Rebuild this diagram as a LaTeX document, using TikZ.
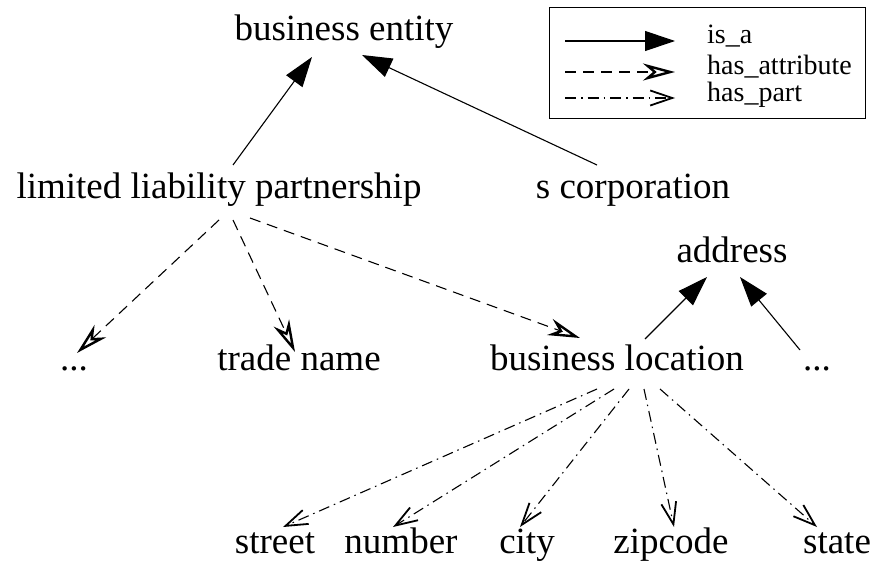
\documentclass[tikz,border=0pt]{standalone}
\usepackage{fontspec}
\setmainfont{Liberation Serif}
\usetikzlibrary{arrows.meta}
\begin{document}
\begin{tikzpicture}[x=1pt,y=-1pt,
  lbl/.style={inner sep=0pt,anchor=base,font=\fontsize{37}{40}\selectfont},
  leg/.style={inner sep=0pt,anchor=base west,font=\fontsize{28}{30}\selectfont},
  isa/.style={line width=1.1pt,-{Triangle[length=30pt,width=20pt]}},
  attr/.style={line width=1.1pt,dash pattern=on 11pt off 7pt,
    -{Stealth[open,length=32pt,width=17pt,inset=10pt,line width=2.4pt]}},
  part/.style={line width=1.1pt,dash pattern=on 11pt off 5pt on 1.5pt off 5pt,
    -{Straight Barb[length=22pt,width=15pt,line width=1.8pt]}}]
\useasboundingbox (0,0) rectangle (875,570);
% nodes
\node[lbl] (be) at (344,40) {business entity};
\node[lbl] (llp) at (219,198) {limited liability partnership};
\node[lbl] (sc) at (633,198) {s corporation};
\node[lbl] (addr) at (732,262) {address};
\node[lbl] (dots1) at (74,370) {...};
\node[lbl] (tn) at (299,370) {trade name};
\node[lbl] (bl) at (617,370) {business location};
\node[lbl] (dots2) at (817,370) {...};
\node[lbl] (street) at (275,553) {street};
\node[lbl] (number) at (401,553) {number};
\node[lbl] (city) at (527,553) {city};
\node[lbl] (zip) at (671,553) {zipcode};
\node[lbl] (state) at (837,553) {state};
% is_a
\draw[isa] ([shift={(14,-33)}]llp.base) -- ([shift={(-32,17)}]be.base);
\draw[isa] ([shift={(-36,-33)}]sc.base) -- ([shift={(18,15)}]be.base);
\draw[isa] ([shift={(28,-31)}]bl.base) -- ([shift={(-25,15)}]addr.base);
\draw[isa] ([shift={(-17,-20)}]dots2.base) -- ([shift={(8,15)}]addr.base);
% has_attribute
\draw[attr] ([shift={(0,22)}]llp.base) -- ([shift={(3,-17)}]dots1.base);
\draw[attr] ([shift={(14,22)}]llp.base) -- ([shift={(-4,-18)}]tn.base);
\draw[attr] ([shift={(31,20)}]llp.base) -- ([shift={(-37,-32)}]bl.base);
% has_part
\draw[part] ([shift={(-20,19)}]bl.base) -- ([shift={(8,-26)}]street.base);
\draw[part] ([shift={(-3,19)}]bl.base) -- ([shift={(-8,-26)}]number.base);
\draw[part] ([shift={(12,19)}]bl.base) -- ([shift={(-7,-26)}]city.base);
\draw[part] ([shift={(27,19)}]bl.base) -- ([shift={(3,-26)}]zip.base);
\draw[part] ([shift={(43,19)}]bl.base) -- ([shift={(-20,-26)}]state.base);
% legend
\node[draw,line width=1pt,inner sep=0pt,anchor=north west,minimum width=316pt,minimum height=111pt] (legend) at (549,7) {};
\coordinate (l1a) at (565,41); \coordinate (l1b) at (675,41);
\coordinate (l2a) at (565,72); \coordinate (l2b) at (675,72);
\coordinate (l3a) at (565,98); \coordinate (l3b) at (675,98);
\draw[isa] (l1a) -- (l1b);
\draw[attr] (l2a) -- (l2b);
\draw[part] (l3a) -- (l3b);
\node[leg] (t1) at (707,43) {is\_a};
\node[leg] (t2) at (707,74) {has\_attribute};
\node[leg] (t3) at (707,101) {has\_part};
\end{tikzpicture}
\end{document}
